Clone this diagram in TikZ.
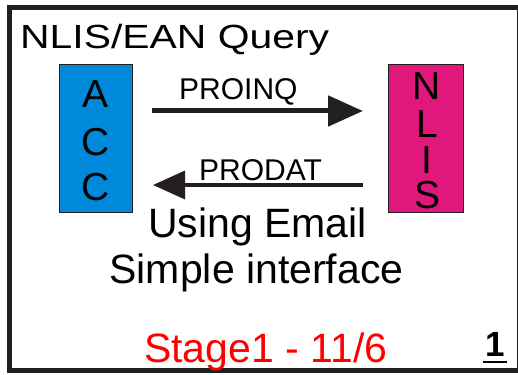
\documentclass[tikz,border=0pt]{standalone}
\usepackage{fontspec}
\setmainfont{Liberation Sans}
\usetikzlibrary{arrows.meta}
\definecolor{accblue}{RGB}{0,137,218}
\definecolor{nlismag}{RGB}{224,24,123}
\definecolor{framecol}{RGB}{35,31,32}
\begin{document}
\begin{tikzpicture}[x=1pt,y=-1pt,
  sysbox/.style={draw=framecol, line width=1pt, inner sep=0pt, outer sep=0pt, minimum height=147pt},
  letter/.style={anchor=base, inner sep=0pt, font=\fontsize{39}{40}\selectfont},
  msglabel/.style={anchor=base west, inner sep=0pt, font=\fontsize{30}{34}\selectfont},
  bigtext/.style={anchor=base, inner sep=0pt, font=\fontsize{41}{46}\selectfont},
  msgarrow/.style={draw=framecol, line cap=butt}
]
\useasboundingbox (0,0) rectangle (518,374);
\draw[framecol, line width=5pt] (9.5,8) rectangle (519,370.5);

\node[anchor=base west, inner sep=0pt] (title) at (20,49)
  {\scalebox{1.22}[1]{\fontsize{33.5}{40}\selectfont NLIS/EAN Query}};

\node[sysbox, fill=accblue, minimum width=73pt] (acc) at (95.5,138.5) {};
\node[sysbox, fill=nlismag, minimum width=75pt] (nlis) at (425.5,138.5) {};

\node[letter] (a1) at (95.5,108) {A};
\node[letter] (a2) at (95.5,155) {C};
\node[letter] (a3) at (95.5,200) {C};

\node[letter] (n1) at (427,100) {N};
\node[letter] (n2) at (427,137) {L};
\node[letter] (n3) at (427,173) {I};
\node[letter] (n4) at (427,208) {S};

\coordinate (q1) at (152,111);
\coordinate (q2) at (363,111);
\coordinate (d1) at (363,185);
\coordinate (d2) at (153,185);
\draw[msgarrow, line width=5pt, -{Triangle[length=35pt,width=30pt]}] (q1) -- (q2);
\draw[msgarrow, line width=3.5pt, -{Triangle[length=32pt,width=28pt]}] (d1) -- (d2);

\node[msglabel] (proinq) at (179,100) {PROINQ};
\node[msglabel] (prodat) at (199,180) {PRODAT};

\node[bigtext] (email) at (257.5,237) {Using Email};
\node[bigtext] (simple) at (256.5,283) {Simple interface};

\node[anchor=base west, inner sep=0pt, text=red, font=\fontsize{41}{46}\selectfont] (stage) at (144,362) {Stage1 - 11/6};

\node[anchor=base, inner sep=0pt, font=\fontsize{35}{40}\selectfont\bfseries] (num) at (495,356) {1};
\coordinate (u1) at (483,362);
\coordinate (u2) at (507,362);
\draw[black, line width=2pt] (u1) -- (u2);
\end{tikzpicture}
\end{document}
